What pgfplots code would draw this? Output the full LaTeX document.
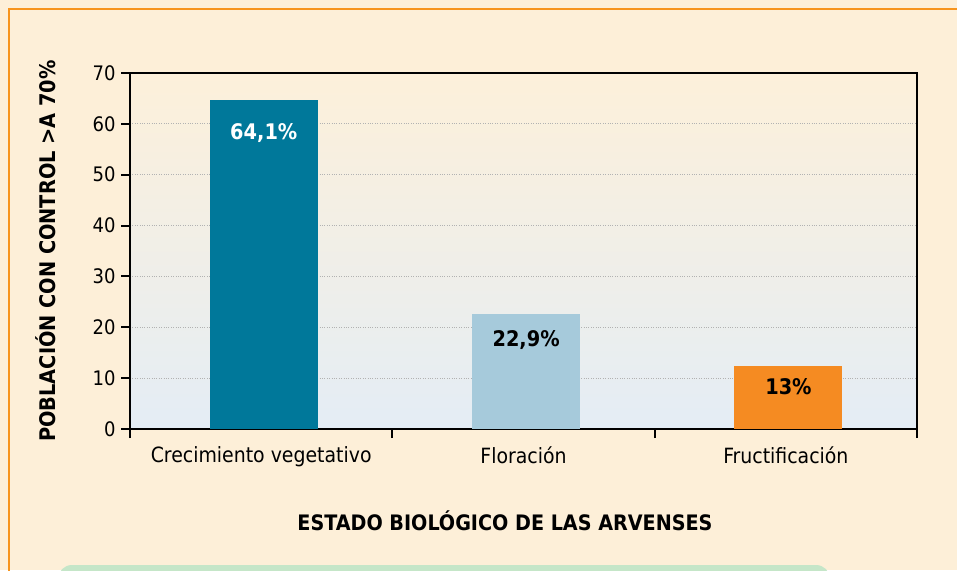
\documentclass[border=0pt]{standalone}
\usepackage{pgfplots}
\pgfplotsset{compat=1.18}
\usepackage{fontspec}
\setmainfont{DejaVu Sans Condensed}
\definecolor{cream}{HTML}{FDEFD8}
\definecolor{borderor}{HTML}{F7941D}
\definecolor{teal}{HTML}{00789A}
\definecolor{lblue}{HTML}{A6CADB}
\definecolor{orbar}{HTML}{F58B22}
\definecolor{greenbox}{HTML}{C5E6C8}
\definecolor{bgtop}{HTML}{FDF0DA}
\definecolor{bgbot}{HTML}{E4EDF5}
\begin{document}
\begin{tikzpicture}
\clip (0,0) rectangle (957pt,570pt);
\fill[cream] (0,0) rectangle (957pt,570pt);
\draw[borderor, line width=2.5pt] (9pt,-5pt) -- (9pt,561pt) -- (960pt,561pt);
\fill[greenbox, rounded corners=14pt] (58pt,-30pt) rectangle (830pt,5pt);
\begin{axis}[
  at={(130pt,141pt)}, anchor=south west,
  scale only axis, width=787pt, height=356pt,
  xmin=-0.5, xmax=2.5, ymin=0, ymax=70,
  ytick={0,10,...,70},
  xtick={0,1,2},
  xticklabels={Crecimiento vegetativo, Floración, Fructificación},
  minor xtick={-0.5,0.5,1.5,2.5},
  major x tick style={draw=none},
  tick align=outside,
  xtick pos=bottom, ytick pos=left,
  major tick length=9pt, minor tick length=9pt,
  every tick/.style={black, line width=2pt},
  axis line style={line width=2.5pt},
  ymajorgrids, grid style={gray!60, dotted, line width=1pt},
  axis background/.style={shade, top color=bgtop, bottom color=bgbot},
  /pgf/number format/assume math mode=true,
  tick label style={font=\fontsize{21}{24}\selectfont},
  yticklabel style={font=\fontsize{20}{24}\selectfont, xshift=-2pt},
  xticklabel style={yshift=-5pt},
  ylabel={POBLACIÓN CON CONTROL >A 70\%},
  ylabel style={at={(axis description cs:-0.107,0.5)}, anchor=center, font=\fontsize{21.5}{24}\selectfont\bfseries},
  xlabel={ESTADO BIOLÓGICO DE LAS ARVENSES},
  xlabel style={at={(axis description cs:0.4765,-0.258)}, anchor=center, font=\fontsize{21.3}{24}\selectfont\bfseries},
  ybar, bar width=108pt, bar shift=0pt,
  point meta=explicit symbolic,
  nodes near coords,
]
\addplot[fill=teal, draw=none, nodes near coords style={anchor=center, yshift=-33pt, text=white, font=\fontsize{21.5}{24}\selectfont\bfseries}]
  coordinates {(0.01,64.6) [64,1\%]};
\addplot[fill=lblue, draw=none, nodes near coords style={anchor=center, yshift=-26pt, text=black, font=\fontsize{21.5}{24}\selectfont\bfseries}]
  coordinates {(1.01,22.7) [22,9\%]};
\addplot[fill=orbar, draw=none, nodes near coords style={anchor=center, yshift=-20pt, text=black, font=\fontsize{21.5}{24}\selectfont\bfseries}]
  coordinates {(2.01,12.3) [13\%]};
\end{axis}
\end{tikzpicture}
\end{document}
